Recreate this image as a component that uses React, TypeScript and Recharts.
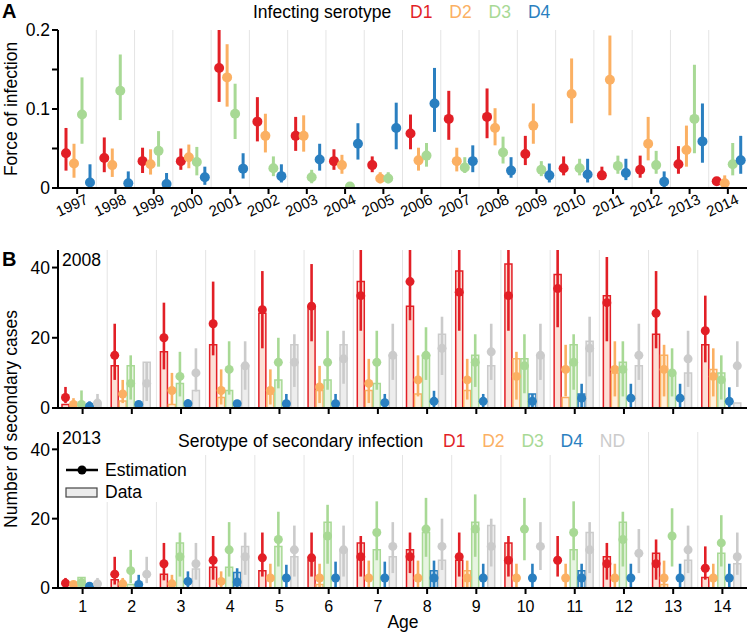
import React from 'react';
import { BarChart, Bar, XAxis, YAxis, ErrorBar, ReferenceLine } from 'recharts';

const years = ['1997', '1998', '1999', '2000', '2001', '2002', '2003', '2004', '2005',
  '2006', '2007', '2008', '2009', '2010', '2011', '2012', '2013', '2014'];
const ages = ['1', '2', '3', '4', '5', '6', '7', '8', '9', '10', '11', '12', '13', '14'];
const infecting = ['D1', 'D2', 'D3', 'D4'];
const secondary = ['D1', 'D2', 'D3', 'D4', 'ND'];

// force of infection per year: [estimate, lower, upper]
const foiD1 = [[0.044, 0.022, 0.076], [0.038, 0.02, 0.064], [0.034, 0.019, 0.051], [0.034, 0.023, 0.05],
  [0.152, 0.109, 0.2], [0.084, 0.059, 0.115], [0.066, 0.047, 0.09], [0.034, 0.023, 0.049],
  [0.029, 0.02, 0.04], [0.069, 0.049, 0.093], [0.0875, 0.061, 0.123], [0.09, 0.063, 0.126],
  [0.043, 0.029, 0.066], [0.025, 0.016, 0.04], [0.016, 0.011, 0.027], [0.023, 0.013, 0.041],
  [0.03, 0.018, 0.053], [0.0085, 0.004, 0.0135]];
const foiD2 = [[0.031, 0.013, 0.056], [0.029, 0.014, 0.05], [0.03, 0.017, 0.049], [0.039, 0.025, 0.055],
  [0.14, 0.103, 0.182], [0.066, 0.045, 0.094], [0.066, 0.046, 0.092], [0.029, 0.018, 0.042],
  [0.012, 0.006, 0.02], [0.035, 0.022, 0.051], [0.034, 0.021, 0.051], [0.076, 0.054, 0.101],
  [0.079, 0.056, 0.107], [0.119, 0.082, 0.164], [0.137, 0.092, 0.193], [0.056, 0.035, 0.09],
  [0.048, 0.027, 0.079], [0.006, 0.002, 0.016]];
const foiD3 = [[0.093, 0.056, 0.14], [0.123, 0.086, 0.169], [0.047, 0.027, 0.072], [0.033, 0.016, 0.052],
  [0.094, 0.062, 0.132], [0.025, 0.015, 0.04], [0.0135, 0.006, 0.023], [0.002, 0, 0.007],
  [0.012, 0.006, 0.02], [0.041, 0.027, 0.057], [0.026, 0.019, 0.039], [0.045, 0.031, 0.065],
  [0.023, 0.015, 0.034], [0.025, 0.016, 0.037], [0.028, 0.018, 0.041], [0.029, 0.018, 0.047],
  [0.0875, 0.044, 0.156], [0.03, 0.016, 0.057]];
const foiD4 = [[0.007, 0, 0.03], [0.006, 0, 0.021], [0.005, 0, 0.019], [0.0135, 0.004, 0.027],
  [0.0245, 0.012, 0.044], [0.015, 0.007, 0.03], [0.036, 0.022, 0.056], [0.056, 0.036, 0.082],
  [0.076, 0.049, 0.108], [0.107, 0.071, 0.152], [0.034, 0.02, 0.054], [0.022, 0.013, 0.039],
  [0.016, 0.007, 0.031], [0.017, 0.007, 0.037], [0.019, 0.01, 0.037], [0.008, 0, 0.021],
  [0.059, 0.032, 0.107], [0.035, 0.018, 0.066]];

// 2008 secondary cases by age: observed counts and [estimate, lower, upper]
const obs2008D1 = [1, 12, 16, 18, 27, 29, 36, 29, 39, 41, 38, 32, 21, 18];
const obs2008D2 = [0, 2, 1, 3, 4, 5, 5, 4, 5, 14, 3, 10, 15, 11];
const obs2008D3 = [0, 12, 7, 5, 8, 8, 7, 15, 15, 14, 18, 13, 10, 10];
const obs2008D4 = [0, 0, 0, 0, 0, 0, 0, 0, 0, 4, 4, 0, 0, 0];
const obs2008ND = [1, 13, 5, 12, 18, 18, 15, 21, 12, 15, 19, 12, 10, 1.4];
const est2008D1 = [[3, 1.4, 6], [15, 8, 24], [20, 11, 30], [24, 15, 36], [28, 17, 39], [29, 19, 41],
  [32, 22, 45], [36, 25, 45], [33, 22, 45], [32, 22, 45], [34, 23, 45], [30, 19, 43], [27, 17, 39], [22, 13, 32]];
const est2008D2 = [[1, 0, 2.8], [4, 1.4, 8], [5, 1, 10], [5, 1, 11], [5, 1, 11], [6, 1.4, 12],
  [7, 1.4, 14], [8, 3.3, 15], [8, 2.4, 14], [9, 2.4, 16], [11, 3.3, 18], [11, 3.3, 19], [11, 3.3, 18], [9, 3.3, 17]];
const est2008D3 = [[1, 0, 5], [7, 2.4, 15], [9, 3.3, 16], [11, 3.8, 19], [13, 5.6, 20], [13, 5.2, 22],
  [13, 5.2, 22], [15, 8, 23], [13, 6, 21], [12, 4.2, 21], [13, 5.2, 21], [11, 3.3, 19], [10, 3.3, 17], [8, 2.4, 15]];
const est2008D4 = [[0.5, 0, 1.9], [1, 0, 2], [1.2, 0, 2.5], [1.2, 0, 2.2], [1.2, 0, 4], [1.2, 0, 4],
  [1.5, 0, 4], [1.9, 0, 4.9], [1.9, 0, 4], [1.9, 0, 4], [2.8, 0, 6.9], [2.8, 0, 6.9], [2.8, 0, 6.9], [1.9, 0, 5.9]];
const est2008ND = [[1.4, 0, 4], [7, 2, 13], [10, 4.7, 17], [12, 5.2, 19], [13, 6, 21], [14, 6.9, 22],
  [15, 8, 24], [17, 9.4, 26], [16, 8, 24], [15, 8, 24], [17, 9, 26], [15, 8, 24], [14, 6, 22], [12, 6, 19]];

// 2013 secondary cases by age
const obs2013D1 = [0, 2.4, 4, 6, 5, 8, 13, 11, 8, 13, 0, 9, 10, 3];
const obs2013D2 = [0, 0, 0, 0, 0, 1, 0, 0, 5, 0, 0, 0, 1, 0];
const obs2013D3 = [3, 1, 13, 6, 12, 19, 11, 16, 19, 0, 11, 19, 0, 10];
const obs2013D4 = [0, 0, 0, 4.5, 0, 0, 0, 5, 0, 0, 5, 0, 0, 0];
const obs2013ND = [0, 0, 5.5, 12, 9, 11, 9, 8, 18, 0, 16, 0, 8, 7];
const est2013D1 = [[1.4, 0, 2.9], [4, 1, 9], [7, 2.2, 13], [8, 2.4, 15], [8.7, 3.3, 16], [8.7, 3.3, 16],
  [9, 3.3, 15], [9, 4.3, 16], [9, 3.3, 16], [8, 3.3, 15], [8, 3.3, 15], [7, 2.4, 13], [7, 2.4, 14], [5.7, 2.4, 12]];
const est2013D2 = [[1, 0, 2], [1.2, 0, 2.9], [1.2, 0, 3.8], [1.9, 0, 4.8], [2.9, 0, 7], [2.9, 0, 7],
  [2.9, 0, 7.9], [2.9, 0, 7.9], [2.9, 0, 7.9], [2.9, 0, 7], [2.9, 0, 7], [2.9, 0, 7], [2.9, 0, 7.9], [2.9, 0, 7]];
const est2013D3 = [[1.5, 0.5, 3], [5, 1.4, 11], [9, 3.3, 16], [11, 3.3, 19], [14, 6.2, 22], [15, 7, 24],
  [16, 8, 25], [17, 9, 26], [17, 9, 27], [17, 8, 26], [16, 8, 25], [14, 6.2, 22], [15, 6.2, 23], [13, 6.2, 21]];
const est2013D4 = [[0.5, 0, 1.7], [1, 0, 3.8], [1.9, 0, 4.8], [1.7, 0, 5.7], [2.9, 0, 6.7], [2.9, 0, 7.6],
  [2.9, 0, 7.6], [2.9, 0, 7.9], [2.9, 0, 7], [2.9, 0, 7], [2.9, 0, 7], [2.9, 0, 7], [2.9, 0, 7], [2.9, 0, 7]];
const est2013ND = [[1.2, 0, 2.9], [4, 1.4, 9], [7, 2.4, 13], [9, 3.8, 16], [11, 3.3, 18], [11, 3.3, 18],
  [12, 4.3, 19], [12, 5.2, 20], [12, 6.2, 20], [12, 5.2, 19], [11, 4.3, 19], [10, 4.3, 17], [11, 4.3, 18], [9, 3.8, 16]];

const colors: Record<string, string> = {
  D1: '#e21f26', D2: '#fbb063', D3: '#a8d995', D4: '#2a7fc0', ND: '#cbcbcb',
};
const fills: Record<string, string> = {
  D1: '#fcdfd6', D2: '#fff0dc', D3: '#e7f4e1', D4: '#d8e8f5', ND: '#ededed',
};
const font = '"Liberation Sans", Arial, Helvetica, sans-serif';

const toRow = (key: string, label: string, i: number, est: Record<string, number[][]>, obs?: Record<string, number[]>) => {
  const row: any = { [key]: label };
  Object.keys(est).forEach((s) => {
    const [m, lo, hi] = est[s][i];
    row[s] = m;
    row[s + 'err'] = [m - lo, hi - m];
    if (obs) row[s + 'obs'] = obs[s][i];
  });
  return row;
};

const foiRows = years.map((y, i) => toRow('year', y, i, { D1: foiD1, D2: foiD2, D3: foiD3, D4: foiD4 }));
const rows2008 = ages.map((a, i) => toRow('age', a, i,
  { D1: est2008D1, D2: est2008D2, D3: est2008D3, D4: est2008D4, ND: est2008ND },
  { D1: obs2008D1, D2: obs2008D2, D3: obs2008D3, D4: obs2008D4, ND: obs2008ND }));
const rows2013 = ages.map((a, i) => toRow('age', a, i,
  { D1: est2013D1, D2: est2013D2, D3: est2013D3, D4: est2013D4, ND: est2013ND },
  { D1: obs2013D1, D2: obs2013D2, D3: obs2013D3, D4: obs2013D4, ND: obs2013ND }));

const dotShape = (r: number, color: string) => (props: any) => {
  const { x, y, width } = props;
  return <circle cx={x + width / 2} cy={y} r={r} fill={color} />;
};

const YearTick = (props: any) => {
  const { x, y, payload } = props;
  const tx = x + 12;
  const ty = y + 7;
  return (
    <text x={tx} y={ty} transform={`rotate(-25 ${tx} ${ty})`} textAnchor="end" fontSize={15} fill="#000">
      {payload.value}
    </text>
  );
};

const axisStyle = { stroke: '#000', strokeWidth: 2 };

const SecondaryPanel = ({ data, showLabels, height }: { data: any[]; showLabels: boolean; height: number }) => (
  <BarChart width={750} height={height} data={data} margin={{ top: 10, right: 3, bottom: 0, left: 0 }}
    barCategoryGap={4} barGap={1}>
    {ages.slice(1).map((a) => (
      <ReferenceLine key={a} xAxisId="d" x={a} position="start" stroke="#e4e4e4" strokeWidth={1} />
    ))}
    <XAxis xAxisId="d" dataKey="age" interval={0} axisLine={axisStyle} tickLine={axisStyle} tickSize={6}
      tickMargin={7} height={showLabels ? 30 : 12} tick={{ fill: '#000', fontSize: 16 }}
      tickFormatter={(v) => (showLabels ? v : '')} />
    <XAxis xAxisId="e" dataKey="age" hide />
    <YAxis domain={[0, 45]} ticks={[0, 20, 40]} allowDataOverflow width={58} axisLine={axisStyle}
      tickLine={axisStyle} tickSize={6} tick={{ fill: '#000', fontSize: 17.5 }} />
    {secondary.map((s) => (
      <Bar key={s + 'obs'} xAxisId="d" dataKey={s + 'obs'} fill={fills[s]} stroke={colors[s]} strokeWidth={1.5}
        isAnimationActive={false} />
    ))}
    {secondary.map((s) => (
      <Bar key={s} xAxisId="e" dataKey={s} shape={dotShape(4.5, colors[s])} isAnimationActive={false}>
        <ErrorBar dataKey={s + 'err'} direction="y" width={0} strokeWidth={2.6} stroke={colors[s]} />
      </Bar>
    ))}
  </BarChart>
);

export default function App() {
  return (
    <div style={{ position: 'absolute', left: 0, top: 0, width: 750, height: 634, background: '#fff', fontFamily: font }}>
      <div style={{ position: 'absolute', left: 0, top: 0 }}>
        <BarChart width={750} height={232} data={foiRows} margin={{ top: 30, right: 3, bottom: 0, left: 0 }}
          barCategoryGap={5} barGap={2}>
          {years.slice(1).map((y) => (
            <ReferenceLine key={y} x={y} position="start" stroke="#e4e4e4" strokeWidth={1} />
          ))}
          <XAxis dataKey="year" interval={0} axisLine={axisStyle} tickLine={axisStyle} tickSize={6}
            height={44} tick={<YearTick />} />
          <YAxis domain={[0, 0.2]} ticks={[0, 0.05, 0.1, 0.15, 0.2]} allowDataOverflow width={58}
            axisLine={axisStyle} tickLine={axisStyle} tickSize={6} tick={{ fill: '#000', fontSize: 17.5 }}
            tickFormatter={(v: number) => (Math.abs(v * 10 - Math.round(v * 10)) < 1e-9 ? String(v) : '')} />
          {infecting.map((s) => (
            <Bar key={s} dataKey={s} shape={dotShape(5, colors[s])} isAnimationActive={false}>
              <ErrorBar dataKey={s + 'err'} direction="y" width={0} strokeWidth={3} stroke={colors[s]} />
            </Bar>
          ))}
        </BarChart>
      </div>
      <div style={{ position: 'absolute', left: 0, top: 240 }}>
        <SecondaryPanel data={rows2008} showLabels={false} height={180} />
      </div>
      <div style={{ position: 'absolute', left: 0, top: 422 }}>
        <SecondaryPanel data={rows2013} showLabels height={196} />
      </div>
      <svg width={750} height={634} style={{ position: 'absolute', left: 0, top: 0, pointerEvents: 'none' }}
        fontFamily={font}>
        <text x={2} y={18} fontSize={20} fontWeight="bold">A</text>
        <text x={2} y={266} fontSize={20} fontWeight="bold">B</text>
        <text x={253} y={18} fontSize={17.5}>Infecting serotype</text>
        {infecting.map((s, i) => (
          <text key={s} x={410 + i * 39.3} y={18} fontSize={17.5} fill={colors[s]}>{s}</text>
        ))}
        <text transform="translate(17 109) rotate(-90)" textAnchor="middle" fontSize={17.5}>Force of infection</text>
        <text transform="translate(17 419) rotate(-90)" textAnchor="middle" fontSize={17.5}>Number of secondary cases</text>
        <text x={62} y={266} fontSize={17.5}>2008</text>
        <rect x={61} y={432} width={130} height={70} fill="#fff" />
        <rect x={172} y={432} width={456} height={23} fill="#fff" />
        <text x={62} y={444} fontSize={17.5}>2013</text>
        <text x={178} y={447} fontSize={17.5}>Serotype of secondary infection</text>
        {secondary.map((s, i) => (
          <text key={s} x={443 + i * 39.2} y={447} fontSize={17.5} fill={colors[s]}>{s}</text>
        ))}
        <line x1={66} y1={470} x2={98} y2={470} stroke="#000" strokeWidth={2.5} />
        <circle cx={82} cy={470} r={4.5} fill="#000" />
        <text x={105} y={476} fontSize={17.5}>Estimation</text>
        <rect x={66} y={488} width={31} height={9} fill="#ececec" stroke="#444" strokeWidth={1.2} />
        <text x={105} y={498} fontSize={17.5}>Data</text>
        <text x={403} y={628} textAnchor="middle" fontSize={17.5}>Age</text>
      </svg>
    </div>
  );
}
